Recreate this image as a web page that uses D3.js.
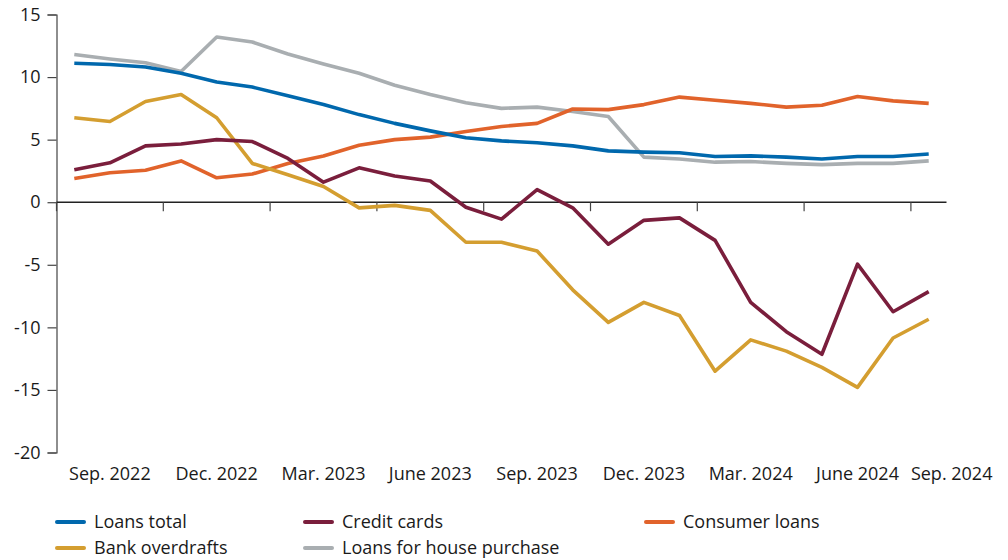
<!DOCTYPE html>
<html>
<head>
<meta charset="utf-8">
<script src="https://cdn.jsdelivr.net/npm/d3@7"></script>
<style>
  body { margin: 0; background: #fff; }
  svg text { font-family: "Open Sans", sans-serif; fill: #1a1a1a; }
</style>
</head>
<body>
<script>
const w = 1008;
const h = 560;

// monthly observations, Sep 2022 - Sep 2024
const months = ["2022-09","2022-10","2022-11","2022-12","2023-01","2023-02","2023-03","2023-04","2023-05",
                "2023-06","2023-07","2023-08","2023-09","2023-10","2023-11","2023-12","2024-01","2024-02",
                "2024-03","2024-04","2024-05","2024-06","2024-07","2024-08","2024-09"];

const loansTotal = [11.1, 11.0, 10.8, 10.3, 9.6, 9.2, 8.5, 7.8, 7.0, 6.3, 5.7, 5.15, 4.9, 4.75, 4.5, 4.1,
                    4.0, 3.95, 3.65, 3.7, 3.6, 3.45, 3.65, 3.65, 3.85];
const creditCards = [2.6, 3.15, 4.5, 4.65, 5.0, 4.85, 3.5, 1.6, 2.75, 2.1, 1.7, -0.4, -1.35, 1.0, -0.45, -3.35,
                     -1.45, -1.25, -3.05, -8.0, -10.35, -12.15, -4.95, -8.75, -7.15];
const consumerLoans = [1.9, 2.35, 2.55, 3.3, 1.95, 2.25, 3.1, 3.7, 4.55, 5.0, 5.2, 5.65, 6.05, 6.3, 7.45, 7.4,
                       7.8, 8.4, 8.15, 7.9, 7.6, 7.75, 8.45, 8.1, 7.9];
const bankOverdrafts = [6.75, 6.45, 8.05, 8.6, 6.75, 3.1, 2.2, 1.25, -0.45, -0.25, -0.65, -3.2, -3.2, -3.9, -7.0,
                        -9.6, -8.0, -9.05, -13.5, -11.0, -11.9, -13.2, -14.8, -10.85, -9.35];
const housePurchase = [11.8, 11.45, 11.15, 10.45, 13.2, 12.8, 11.85, 11.05, 10.3, 9.35, 8.6, 7.95, 7.5, 7.6, 7.25,
                       6.85, 3.6, 3.45, 3.2, 3.25, 3.1, 3.0, 3.1, 3.1, 3.3];

const seriesNames = ["Loans total", "Credit cards", "Consumer loans", "Bank overdrafts", "Loans for house purchase"];
const seriesColors = ["#0068ad", "#7a1e3c", "#e1632b", "#d49e30", "#a9aeb1"];
const seriesValues = [loansTotal, creditCards, consumerLoans, bankOverdrafts, housePurchase];

const yTicks = [15, 10, 5, 0, -5, -10, -15, -20];
const xTickLabels = ["Sep. 2022", "Dec. 2022", "Mar. 2023", "June 2023", "Sep. 2023", "Dec. 2023",
                     "Mar. 2024", "June 2024", "Sep. 2024"];

const fontSize = 18;

const svg = d3.select("body")
  .append("svg")
  .attr("width", w)
  .attr("height", h);

const xScale = d3.scaleBand()
  .domain(months)
  .range([56.5, 946.5])
  .padding(0);

const yScale = d3.scaleLinear()
  .domain([-20, 15])
  .range([452.5, 14.5]);

const chart = svg.append("g");

// y axis
const yAxis = d3.axisLeft(yScale)
  .tickValues(yTicks)
  .tickSize(9)
  .tickPadding(7)
  .tickFormat(d => String(d));

const yG = chart.append("g")
  .attr("transform", "translate(" + xScale.range()[0] + ",0)")
  .call(yAxis);
yG.select(".domain").attr("stroke", "#444").attr("stroke-width", 1.2);
yG.selectAll(".tick line").attr("stroke", "#444").attr("stroke-width", 1.2);
yG.selectAll(".tick text").attr("font-size", fontSize).attr("font-family", "Open Sans").attr("fill", "#1a1a1a");

// x axis at zero, ticks on band edges every 3 months
const tickMonths = months.filter((m, i) => i % 3 === 0);
const x0 = yScale(0);

chart.append("line")
  .attr("x1", xScale.range()[0])
  .attr("x2", xScale.range()[1])
  .attr("y1", x0)
  .attr("y2", x0)
  .attr("stroke", "#222")
  .attr("stroke-width", 1.5);

chart.selectAll(".xtick")
  .data(tickMonths)
  .enter()
  .append("line")
  .attr("class", "xtick")
  .attr("x1", d => xScale(d))
  .attr("x2", d => xScale(d))
  .attr("y1", x0)
  .attr("y2", x0 + 9)
  .attr("stroke", "#444")
  .attr("stroke-width", 1.2);

chart.selectAll(".xlabel")
  .data(tickMonths)
  .enter()
  .append("text")
  .attr("class", "xlabel")
  .attr("x", (d, i) => {
    const start = xScale(d);
    const next = tickMonths[i + 1];
    if (next) return (start + xScale(next)) / 2;
    return start;
  })
  .attr("y", 480)
  .attr("text-anchor", (d, i) => i < tickMonths.length - 1 ? "middle" : "start")
  .attr("font-size", fontSize)
  .text((d, i) => xTickLabels[i]);

// lines
const line = d3.line()
  .x((d, i) => xScale(months[i]) + xScale.bandwidth() / 2)
  .y(d => yScale(d));

const drawOrder = [4, 2, 3, 1, 0];
chart.selectAll(".series")
  .data(drawOrder)
  .enter()
  .append("path")
  .attr("class", "series")
  .attr("fill", "none")
  .attr("stroke", k => seriesColors[k])
  .attr("stroke-width", 3.6)
  .attr("stroke-linejoin", "round")
  .attr("d", k => line(seriesValues[k]));

// legend
const legendPos = [[57, 522], [305, 522], [646, 522], [57, 548], [305, 548]];
const legend = svg.selectAll(".legend")
  .data(seriesNames)
  .enter()
  .append("g")
  .attr("class", "legend")
  .attr("transform", (d, i) => "translate(" + legendPos[i][0] + "," + legendPos[i][1] + ")");

legend.append("line")
  .attr("x1", 0)
  .attr("x2", 27)
  .attr("stroke", (d, i) => seriesColors[i])
  .attr("stroke-width", 4)
  .attr("stroke-linecap", "round");

legend.append("text")
  .attr("x", 37)
  .attr("y", 6)
  .attr("font-size", fontSize)
  .text(d => d);
</script>
</body>
</html>
